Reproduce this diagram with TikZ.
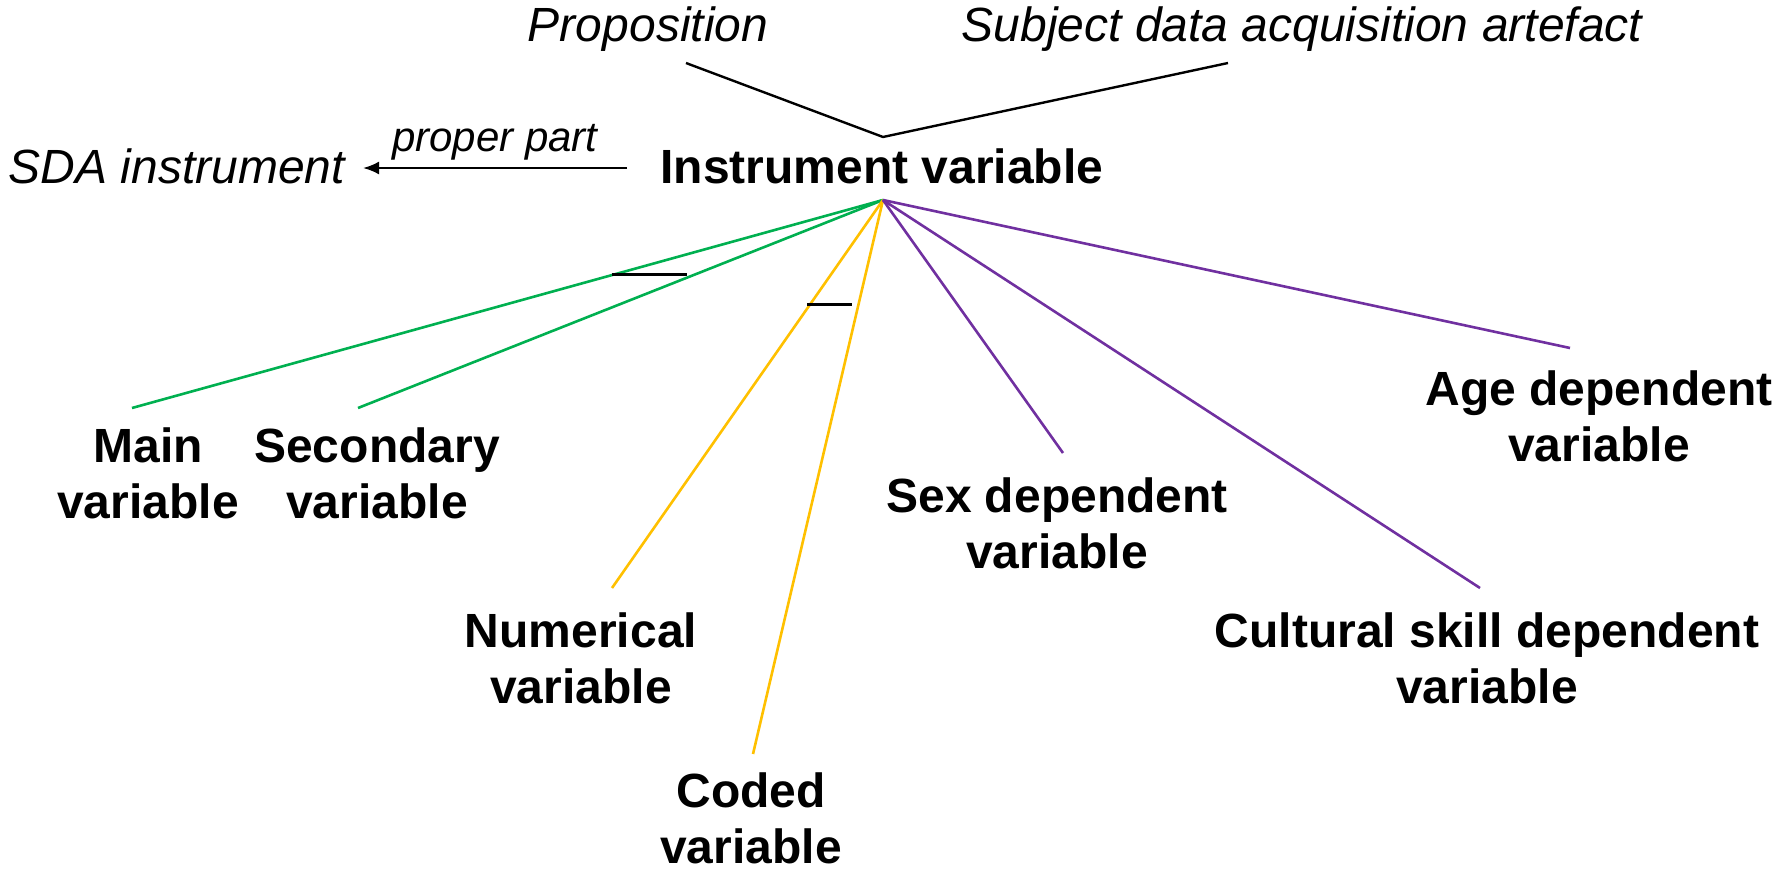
\documentclass[tikz,border=0pt]{standalone}
\usepackage{fontspec}
\setmainfont{Liberation Sans}
\usetikzlibrary{arrows.meta}

\definecolor{kindgreen}{HTML}{00B050}
\definecolor{kindorange}{HTML}{FFC000}
\definecolor{kindpurple}{HTML}{7030A0}

\tikzset{
  concept/.style={font=\fontsize{48}{56}\selectfont\bfseries, align=center, inner sep=0pt},
  upper/.style={font=\fontsize{48}{56}\selectfont\itshape, inner sep=0pt},
  rel/.style={font=\fontsize{42}{48}\selectfont\itshape, inner sep=0pt},
  isa/.style={line width=2.6pt},
  disj/.style={line width=3pt, black}
}

\begin{document}
\begin{tikzpicture}[x=1pt,y=-1pt]
\useasboundingbox (0,0) rectangle (1791,870);

% the concept and what it is
\node[concept] (iv) at (882,166) {Instrument variable};
\coordinate (hub) at (883,200);
\coordinate (top) at (883,137);
\node[upper] (prop) at (648,29) {Proposition};
\node[upper] (sdaa) at (1302,29) {Subject data acquisition artefact};
\coordinate (propend) at (686,63);
\coordinate (sdaaend) at (1228,63);
\draw[line width=2.4pt] (propend) -- (top) -- (sdaaend);

% part of
\node[upper] (sdai) at (177,166) {SDA instrument};
\coordinate (relstart) at (627,168);
\coordinate (relend) at (363,168);
\draw[line width=2.4pt, -{Latex[length=16pt,width=13pt]}] (relstart) -- (relend)
  node[rel, midway, above=7pt] {proper part};

% subtypes
\node[concept] (main) at (148,473) {Main\\variable};
\node[concept] (second) at (377,473) {Secondary\\variable};
\node[concept] (num) at (581,658) {Numerical\\variable};
\node[concept] (coded) at (751,818) {Coded\\variable};
\node[concept] (sex) at (1057,523) {Sex dependent\\variable};
\node[concept] (cult) at (1487,658) {Cultural skill dependent\\variable};
\node[concept] (age) at (1599,416) {Age dependent\\variable};

\coordinate (mainend) at (132,408);
\coordinate (secondend) at (358,408);
\coordinate (numend) at (612,588);
\coordinate (codedend) at (753,754);
\coordinate (sexend) at (1063,453);
\coordinate (cultend) at (1480,588);
\coordinate (ageend) at (1570,348);

\draw[isa, kindgreen] (hub) -- (mainend);
\draw[isa, kindgreen] (hub) -- (secondend);
\draw[isa, kindorange] (hub) -- (numend);
\draw[isa, kindorange] (hub) -- (codedend);
\draw[isa, kindpurple] (hub) -- (sexend);
\draw[isa, kindpurple] (hub) -- (cultend);
\draw[isa, kindpurple] (hub) -- (ageend);

% disjoint marks
\coordinate (gbarl) at (612,274);
\coordinate (gbarr) at (687,274);
\coordinate (obarl) at (807,304);
\coordinate (obarr) at (852,304);
\draw[disj] (gbarl) -- (gbarr);
\draw[disj] (obarl) -- (obarr);
\end{tikzpicture}
\end{document}
